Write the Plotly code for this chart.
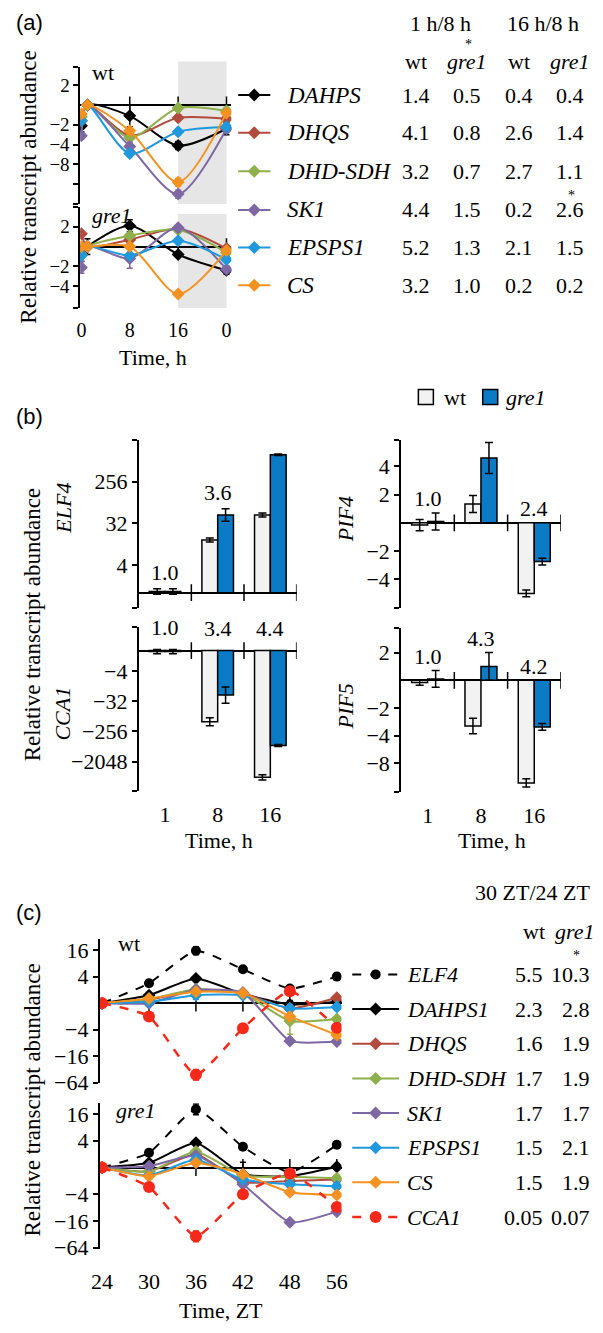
import plotly.graph_objects as go

W, H = 603, 1333
SERIF = "Liberation Serif"
SANS = "Liberation Sans"
FS = 22

# ---------------- data: panel (a)  (log2 fold change; time in h) ----------------
time_a = [0, 1, 8, 16, 24]
time_a_ticks = [0, 8, 16, 24]
time_a_labels = ["0", "8", "16", "0"]
genes_a = ["DAHPS", "DHQS", "DHD-SDH", "SK1", "EPSPS1", "CS"]
a_wt = {
    "DAHPS":   [-1.05, 0, -0.55, -2.05, -1.2],
    "DHQS":    [-0.8, 0, -1.55, -0.65, -0.7],
    "DHD-SDH": [-0.6, 0, -1.65, -0.15, -0.3],
    "SK1":     [-1.55, 0, -2.1, -4.5, -1.2],
    "EPSPS1":  [-0.8, 0, -2.45, -1.35, -1.1],
    "CS":      [-0.45, 0, -1.3, -3.9, -0.4],
}
a_wt_err = {
    "DAHPS":   [0.3, 0.1, 0.55, 0.2, 0.3],
    "DHQS":    [0.1, 0.05, 0.15, 0.15, 0.15],
    "DHD-SDH": [0.1, 0.05, 0.15, 0.15, 0.15],
    "SK1":     [0.15, 0.05, 0.2, 0.2, 0.15],
    "EPSPS1":  [0.1, 0.05, 0.15, 0.15, 0.15],
    "CS":      [0.1, 0.05, 0.15, 0.2, 0.15],
}
a_gre = {
    "DAHPS":   [-0.35, 0, 1.05, -0.4, -1.2],
    "DHQS":    [0.65, 0, 0.35, 0.9, -0.1],
    "DHD-SDH": [-0.4, 0, 0.55, 0.85, -0.3],
    "SK1":     [-1.05, 0, -0.6, 0.95, -1.15],
    "EPSPS1":  [-0.45, 0, -0.45, 0.3, -0.65],
    "CS":      [0, 0, 0, -2.4, -0.2],
}
a_gre_err = {
    "DAHPS":   [0.4, 0.4, 0.3, 0.1, 0.2],
    "DHQS":    [0.1, 0.05, 0.1, 0.1, 0.1],
    "DHD-SDH": [0.1, 0.05, 0.1, 0.1, 0.1],
    "SK1":     [0.3, 0.1, 0.5, 0.1, 0.1],
    "EPSPS1":  [0.1, 0.05, 0.1, 0.1, 0.1],
    "CS":      [0.1, 0.05, 0.1, 0.1, 0.1],
}
tab_a_cols = ["1 h/8 h", "16 h/8 h"]
tab_a_values = {
    "DAHPS":   ["1.4", "0.5", "0.4", "0.4"],
    "DHQS":    ["4.1", "0.8", "2.6", "1.4"],
    "DHD-SDH": ["3.2", "0.7", "2.7", "1.1"],
    "SK1":     ["4.4", "1.5", "0.2", "2.6"],
    "EPSPS1":  ["5.2", "1.3", "2.1", "1.5"],
    "CS":      ["3.2", "1.0", "0.2", "0.2"],
}

# ---------------- data: panel (b)  (log2 fold change) ----------------
times_b = ["1", "8", "16"]
genes_b = ["ELF4", "CCA1", "PIF4", "PIF5"]
b_wt = {"ELF4": [0.08, 3.8, 5.6], "CCA1": [-0.1, -7.05, -12.55],
        "PIF4": [-0.08, 0.67, -2.5], "PIF5": [-0.08, -1.65, -3.7]}
b_wt_err = {"ELF4": [0.2, 0.15, 0.15], "CCA1": [0.2, 0.4, 0.25],
            "PIF4": [0.2, 0.3, 0.12], "PIF5": [0.1, 0.28, 0.15]}
b_gre = {"ELF4": [0.08, 5.6, 9.95], "CCA1": [-0.1, -4.4, -9.4],
         "PIF4": [0.05, 2.3, -1.37], "PIF5": [0.05, 0.5, -1.68]}
b_gre_err = {"ELF4": [0.2, 0.45, 0.05], "CCA1": [0.2, 0.8, 0.1],
             "PIF4": [0.3, 0.55, 0.12], "PIF5": [0.3, 0.5, 0.12]}
b_ratio = {"ELF4": ["1.0", "3.6", "20.4"], "CCA1": ["1.0", "3.4", "4.4"],
           "PIF4": ["1.0", "3.2", "2.4"], "PIF5": ["1.0", "4.3", "4.2"]}

# ---------------- data: panel (c)  (log2 fold change; ZT) ----------------
zt_labels = ["24", "30", "36", "42", "48", "56"]
genes_c = ["ELF4", "DAHPS1", "DHQS", "DHD-SDH", "SK1", "EPSPS1", "CS", "CCA1"]
c_wt = {
    "ELF4":    [0, 1.5, 3.95, 2.55, 1.1, 2.0],
    "DAHPS1":  [0, 0.6, 1.85, 0.7, -0.1, 0.1],
    "DHQS":    [0, 0.25, 1.0, 0.75, -0.4, 0.4],
    "DHD-SDH": [0, 0.3, 1.05, 0.7, -1.35, -1.2],
    "SK1":     [0, 0.0, 1.0, 0.8, -2.85, -2.9],
    "EPSPS1":  [0, 0.1, 0.6, 0.6, -0.4, -0.3],
    "CS":      [0, 0.35, 0.85, 0.75, -1.0, -2.4],
    "CCA1":    [0, -1.0, -5.4, -1.9, 0.9, -1.85],
}
c_gre = {
    "ELF4":    [0, 1.1, 4.35, 1.55, -0.35, 1.7],
    "DAHPS1":  [0, 0.35, 1.85, -0.5, -0.65, 0.05],
    "DHQS":    [0, -0.3, 1.0, -1.1, -1.0, -0.9],
    "DHD-SDH": [0, -0.3, 1.2, -0.6, -0.7, -0.8],
    "SK1":     [0, 0.1, 0.9, -1.25, -4.1, -3.3],
    "EPSPS1":  [0, -0.6, 0.6, -0.9, -1.25, -1.4],
    "CS":      [0, -0.65, 0.35, -0.5, -1.85, -2.05],
    "CCA1":    [0, -1.45, -5.15, -2.0, -0.45, -2.95],
}
c_wt_err = {
    "ELF4": [0.1, 0.2, 0.3, 0.15, 0.2, 0.2], "DAHPS1": [0.1, 0.15, 0.2, 0.15, 0.3, 0.2],
    "DHQS": [0.1, 0.1, 0.2, 0.1, 0.2, 0.2], "DHD-SDH": [0.1, 0.1, 0.2, 0.1, 1.0, 0.2],
    "SK1": [0.1, 0.1, 0.2, 0.1, 0.2, 0.2], "EPSPS1": [0.1, 0.1, 0.3, 0.1, 0.3, 0.2],
    "CS": [0.1, 0.1, 0.2, 0.1, 0.2, 0.2], "CCA1": [0.1, 0.2, 0.4, 0.2, 0.3, 0.3],
}
c_gre_err = {
    "ELF4": [0.1, 0.2, 0.4, 0.15, 0.2, 0.2], "DAHPS1": [0.1, 0.15, 0.2, 0.9, 0.3, 0.2],
    "DHQS": [0.1, 0.1, 0.2, 0.1, 0.2, 0.2], "DHD-SDH": [0.1, 0.1, 0.2, 0.1, 0.2, 0.2],
    "SK1": [0.1, 0.1, 0.2, 0.1, 0.2, 0.2], "EPSPS1": [0.1, 0.1, 0.3, 0.1, 0.2, 0.2],
    "CS": [0.1, 0.1, 0.2, 0.1, 0.2, 0.2], "CCA1": [0.1, 0.2, 0.4, 0.2, 0.3, 0.3],
}
tab_c_wt = ["5.5", "2.3", "1.6", "1.7", "1.7", "1.5", "1.5", "0.05"]
tab_c_gre = ["10.3", "2.8", "1.9", "1.9", "1.7", "2.1", "1.9", "0.07"]

COL = {"DAHPS": "#000000", "DAHPS1": "#000000", "ELF4": "#000000",
       "DHQS": "#b24a3e", "DHD-SDH": "#8db04c", "SK1": "#7d68a3",
       "EPSPS1": "#1f98dc", "CS": "#f39121", "CCA1": "#f5291a"}
BLUE = "#0a7bc4"
WTFILL = "#f2f2f2"

# ---------------- helpers ----------------
def py(y):
    return 1 - y / H

def px(x):
    return x / W

layout = dict(width=W, height=H, margin=dict(l=0, r=0, t=0, b=0), autosize=False,
              paper_bgcolor="white", plot_bgcolor="rgba(0,0,0,0)", showlegend=False,
              barmode="group", bargap=0.4, bargroupgap=0.0,
              font=dict(family=SERIF, size=FS, color="black"))

def add_x(i, left, right, rng, ticks=None, labels=None, standoff=10, fs=FS):
    d = dict(domain=[px(left), px(right)], range=rng, showline=False, zeroline=False,
             showgrid=False, anchor="y%d" % i, fixedrange=True)
    if ticks is None:
        d.update(showticklabels=False, ticks="")
    else:
        d.update(tickvals=ticks, ticktext=labels, ticks="", ticklen=0,
                 ticklabelstandoff=standoff, tickfont=dict(family=SERIF, size=fs))
    layout["xaxis" if i == 1 else "xaxis%d" % i] = d

def add_y(i, top, bottom, base, ppu, tv, tt, endticks=True, fs=FS):
    lo = -(bottom - base) / ppu
    hi = (base - top) / ppu
    tv = list(tv)
    tt = list(tt)
    if endticks:
        tv += [lo + 0.001, hi - 0.001]
        tt += ["", ""]
    layout["yaxis" if i == 1 else "yaxis%d" % i] = dict(
        domain=[py(bottom), py(top)], range=[lo, hi], tickvals=tv, ticktext=tt,
        showline=True, linecolor="black", linewidth=1.5, ticks="outside", ticklen=5,
        tickwidth=1.5, tickcolor="black", zeroline=True, zerolinecolor="black",
        zerolinewidth=1.5, showgrid=False, anchor="x%d" % i, fixedrange=True,
        tickfont=dict(family=SERIF, size=fs))

def xa(i):
    return "x" if i == 1 else "x%d" % i

def ya(i):
    return "y" if i == 1 else "y%d" % i

# axes
add_x(1, 73, 228, [-0.2, 24.8])
add_y(1, 67, 205, 105, 20, [1, -1, -2, -3, -4], ["2", "−2", "−4", "−8", ""], fs=19)
add_x(2, 73, 228, [-0.2, 24.8], time_a_ticks, time_a_labels, 8, fs=20)
add_y(2, 208, 310, 248, 20, [1, -1, -2], ["2", "−2", "−4"], fs=19)

add_x(3, 133, 295, [-0.5, 2.5])
add_y(3, 443, 613, 597.5, 14, [2, 5, 8], ["4", "32", "256"])
add_x(4, 133, 295, [-0.5, 2.5], [0, 1, 2], times_b, 8)
add_y(4, 632, 798, 656, 10.2, [-2, -5, -8, -11], ["−4", "−32", "−256", "−2048"])
add_x(5, 402, 566, [-0.5, 2.5])
add_y(5, 443, 613, 527, 28.5, [2, 1, -1, -2], ["4", "2", "−2", "−4"])
add_x(6, 402, 566, [-0.5, 2.5], [0, 1, 2], times_b, 8)
add_y(6, 633, 799, 686, 28, [1, -1, -2, -3], ["2", "−2", "−4", "−8"])

add_x(7, 93, 341, [-0.05, 5.1])
add_y(7, 947, 1093, 1012, 13.4, [4, 2, -2, -4, -6], ["16", "4", "−4", "−16", "−64"], endticks=False)
add_x(8, 93, 341, [-0.05, 5.1], list(range(6)), zt_labels, 17)
add_y(8, 1113, 1260, 1178, 13.5, [4, 2, -2, -4, -6], ["16", "4", "−4", "−16", "−64"], endticks=False)

# overlay axis in pixel units (for table glyphs)
layout["xaxis9"] = dict(domain=[0, 1], range=[0, W], visible=False, fixedrange=True, anchor="y9")
layout["yaxis9"] = dict(domain=[0, 1], range=[H, 0], visible=False, fixedrange=True, anchor="x9")

traces = []
shapes = []
ann = []

def text(x, y, s, size=FS, family=SERIF, xanchor="center", angle=0):
    ann.append(dict(x=px(x), y=py(y), xref="paper", yref="paper", text=s, showarrow=False,
                    xanchor=xanchor, yanchor="middle", textangle=angle,
                    font=dict(family=family, size=size, color="black")))

def cross_ticks(i, xs):
    traces.append(go.Scatter(x=xs, y=[0] * len(xs), xaxis=xa(i), yaxis=ya(i), mode="markers",
                             marker=dict(symbol="line-ns", size=12, line=dict(color="black", width=1.5)),
                             hoverinfo="skip"))

# ---------------- panel (a) ----------------
for i, top, bot in [(1, 61, 205), (2, 215, 310)]:
    shapes.append(dict(type="rect", xref=xa(i), yref="paper", x0=16, x1=24, y0=py(bot), y1=py(top),
                       fillcolor="#e6e6e6", line=dict(width=0), layer="below"))
for i, data, err in [(1, a_wt, a_wt_err), (2, a_gre, a_gre_err)]:
    cross_ticks(i, [8, 16, 24])
    for g in genes_a:
        traces.append(go.Scatter(
            x=time_a, y=data[g], xaxis=xa(i), yaxis=ya(i), mode="lines+markers",
            line=dict(color=COL[g], width=2, shape="spline", smoothing=0.8),
            marker=dict(symbol="diamond", size=10, color=COL[g]),
            error_y=dict(type="data", array=err[g], color=COL[g], thickness=1.5, width=3)))

text(5, 22, "(a)", family=SANS, xanchor="left")
text(83, 72, "wt", xanchor="left")
text(83, 217, "<i>gre1</i>", xanchor="left")
text(20, 188, "Relative transcript abundance", size=23, angle=-90)
text(148, 360, "Time, h")

col_x = [417, 470, 523, 575]
text(443, 23, tab_a_cols[0])
text(548, 23, tab_a_cols[1])
for cx, lab in zip(col_x, ["wt", "<i>gre1</i>", "wt", "<i>gre1</i>"]):
    text(cx, 61, lab)
text(471, 44, "*", size=14)
row_a = [95, 133, 172, 211, 249, 287]
for g, ry in zip(genes_a, row_a):
    traces.append(go.Scatter(x=[235, 268], y=[ry, ry], xaxis="x9", yaxis="y9", mode="lines",
                             line=dict(color=COL[g], width=2), hoverinfo="skip"))
    traces.append(go.Scatter(x=[251.5], y=[ry], xaxis="x9", yaxis="y9", mode="markers",
                             marker=dict(symbol="diamond", size=10, color=COL[g]), hoverinfo="skip"))
    text(283, ry, "<i>%s</i>" % g, size=23, xanchor="left")
    for cx, v in zip(col_x, tab_a_values[g]):
        text(cx, ry, v)
text(577, 196, "*", size=14)

# ---------------- panel (b) ----------------
pads = {"ELF4": 1.2, "CCA1": 2.2, "PIF4": 0.5, "PIF5": 0.5}
for i, g in zip([3, 4, 5, 6], genes_b):
    traces.append(go.Bar(x=[0, 1, 2], y=b_wt[g], xaxis=xa(i), yaxis=ya(i),
                         marker=dict(color=WTFILL, line=dict(color="black", width=1.5)),
                         error_y=dict(type="data", array=b_wt_err[g], color="black", thickness=1.5, width=4)))
    traces.append(go.Bar(x=[0, 1, 2], y=b_gre[g], xaxis=xa(i), yaxis=ya(i),
                         marker=dict(color=BLUE, line=dict(color="black", width=1.5)),
                         error_y=dict(type="data", array=b_gre_err[g], color="black", thickness=1.5, width=4)))
    cross_ticks(i, [0.5, 1.5, 2.5])
    for k in range(3):
        topv = max(0, b_wt[g][k] + b_wt_err[g][k], b_gre[g][k] + b_gre_err[g][k])
        ann.append(dict(x=k, y=topv + pads[g], xref=xa(i), yref=ya(i), text=b_ratio[g][k],
                        showarrow=False, yanchor="middle", font=dict(family=SERIF, size=FS, color="black")))

text(5, 420, "(b)", family=SANS, xanchor="left")
traces.append(go.Scatter(x=[427.5], y=[400], xaxis="x9", yaxis="y9", mode="markers",
                         marker=dict(symbol="square", size=15, color=WTFILL, line=dict(color="black", width=1.5))))
traces.append(go.Scatter(x=[493.5], y=[400], xaxis="x9", yaxis="y9", mode="markers",
                         marker=dict(symbol="square", size=15, color=BLUE, line=dict(color="black", width=1.5))))
text(444, 400, "wt", xanchor="left")
text(508, 400, "<i>gre1</i>", xanchor="left")
text(55, 512, "<i>ELF4</i>", angle=-90)
text(55, 720, "<i>CCA1</i>", angle=-90)
text(345, 523, "<i>PIF4</i>", angle=-90)
text(345, 712, "<i>PIF5</i>", angle=-90)
text(24, 630, "Relative transcript abundance", size=23, angle=-90)
text(215, 848, "Time, h")
text(495, 848, "Time, h")

# ---------------- panel (c) ----------------
def c_style(g):
    if g == "ELF4":
        return dict(line=dict(color="black", width=2, dash="dash", shape="spline", smoothing=0.5),
                    marker=dict(symbol="circle", size=10, color="black"))
    if g == "CCA1":
        return dict(line=dict(color=COL[g], width=2.5, dash="dash", shape="spline", smoothing=0.5),
                    marker=dict(symbol="circle", size=12, color=COL[g]))
    return dict(line=dict(color=COL[g], width=2, shape="spline", smoothing=0.5),
                marker=dict(symbol="diamond", size=10, color=COL[g]))

for i, data, err in [(7, c_wt, c_wt_err), (8, c_gre, c_gre_err)]:
    cross_ticks(i, [1, 2, 3, 4, 5])
    for g in genes_c:
        traces.append(go.Scatter(x=list(range(6)), y=data[g], xaxis=xa(i), yaxis=ya(i),
                                 mode="lines+markers",
                                 error_y=dict(type="data", array=err[g], color=COL[g], thickness=1.5, width=3),
                                 **c_style(g)))

text(5, 920, "(c)", family=SANS, xanchor="left")
text(110, 952, "wt", xanchor="left")
text(108, 1120, "<i>gre1</i>", xanchor="left")
text(24, 1110, "Relative transcript abundance", size=23, angle=-90)
text(217, 1322, "Time, ZT")
text(598, 900, "30 ZT/24 ZT", xanchor="right")
text(538, 940, "wt")
text(580, 940, "<i>gre1</i>")
text(582, 964, "*", size=14)
row_c = [983, 1018, 1053, 1088, 1123, 1158, 1193, 1228]
for g, ry, vw, vg in zip(genes_c, row_c, tab_c_wt, tab_c_gre):
    st = c_style(g)
    ln = dict(st["line"])
    ln.pop("shape", None)
    ln.pop("smoothing", None)
    traces.append(go.Scatter(x=[352, 400], y=[ry, ry], xaxis="x9", yaxis="y9", mode="lines",
                             line=ln, hoverinfo="skip"))
    traces.append(go.Scatter(x=[376], y=[ry], xaxis="x9", yaxis="y9", mode="markers",
                             marker=st["marker"], hoverinfo="skip"))
    text(406, ry, "<i>%s</i>" % g, xanchor="left")
    text(550, ry, vw, xanchor="right")
    text(598, ry, vg, xanchor="right")

layout["shapes"] = shapes
layout["annotations"] = ann
fig = go.Figure(data=traces, layout=layout)
fig.write_html("out.html", config={"displayModeBar": False},
               post_script="document.body.style.margin='0';document.body.style.padding='0';"
                           "document.body.style.overflow='hidden';")
